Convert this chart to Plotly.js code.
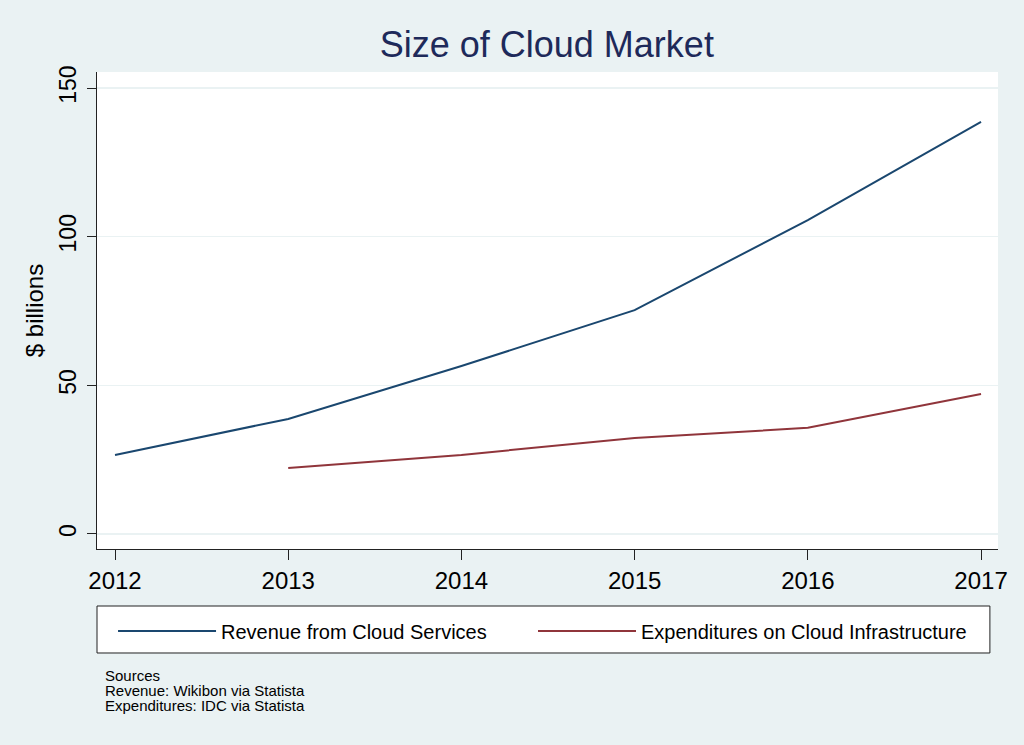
<!DOCTYPE html>
<html>
<head>
<meta charset="utf-8">
<script src="https://cdn.plot.ly/plotly-3.0.1.min.js"></script>
<style>html,body{margin:0;padding:0;background:#eaf2f3;}#chart{width:1024px;height:745px;}</style>
</head>
<body>
<div id="chart"></div>
<script>
const years = [2012, 2013, 2014, 2015, 2016, 2017];
const revenueYears = [2012, 2013, 2014, 2015, 2016, 2017];
const revenue = [26.6, 38.7, 56.5, 75.3, 105.6, 138.6];
const expenditureYears = [2013, 2014, 2015, 2016, 2017];
const expenditures = [22.2, 26.6, 32.3, 35.7, 47.1];
const yTicks = [0, 50, 100, 150];
const seriesNames = ["Revenue from Cloud Services", "Expenditures on Cloud Infrastructure"];
const sourceLines = ["Sources", "Revenue: Wikibon via Statista", "Expenditures: IDC via Statista"];

const font = "Liberation Sans, Arial, Helvetica, sans-serif";

const traces = [
  {x: revenueYears, y: revenue, type: "scatter", mode: "lines", name: seriesNames[0],
   line: {color: "#1a476f", width: 2}, legend: "legend"},
  {x: expenditureYears, y: expenditures, type: "scatter", mode: "lines", name: seriesNames[1],
   line: {color: "#90353b", width: 2}, legend: "legend2"}
];

const sourceAnnotations = sourceLines.map((t, i) => ({
  xref: "paper", yref: "paper", x: 0.0067, y: (549 - (675 + i * 15)) / 477,
  xanchor: "left", yanchor: "middle", align: "left", showarrow: false, text: t,
  font: {size: 15, family: font, color: "#000"}
}));

const legendBase = {
  orientation: "h", xanchor: "left", y: -0.172, yanchor: "middle",
  bgcolor: "rgba(0,0,0,0)", borderwidth: 0, itemwidth: 98,
  font: {size: 20, color: "#000000", family: font}
};

const layout = {
  width: 1024, height: 745,
  paper_bgcolor: "#eaf2f3",
  plot_bgcolor: "#ffffff",
  margin: {l: 97, r: 26, t: 72, b: 196},
  font: {family: font, color: "#000000"},
  title: {text: "Size of Cloud Market", font: {size: 36, color: "#1e2a5a", family: font},
          x: 0.534, xanchor: "center", y: 0.94, yanchor: "middle"},
  showlegend: true,
  legend: Object.assign({}, legendBase, {x: 0.0178}),
  legend2: Object.assign({}, legendBase, {x: (533 - 97) / 901}),
  xaxis: {range: [2011.896, 2017.098], tickvals: years, ticktext: years.map(String),
          showgrid: false, zeroline: false, showline: true, linecolor: "#222", linewidth: 1,
          ticks: "outside", ticklen: 10, tickcolor: "#222", tickwidth: 1,
          tickfont: {size: 24, family: font}},
  yaxis: {range: [-5.05, 155.4], tickvals: yTicks, ticktext: yTicks.map(String),
          showgrid: true, gridcolor: "#eaf2f3", gridwidth: 1.5, zeroline: false,
          showline: true, linecolor: "#222", linewidth: 1,
          ticks: "outside", ticklen: 9, tickcolor: "#222", tickwidth: 1,
          tickangle: -90, ticklabelstandoff: 2, tickfont: {size: 23, family: font},
          title: {text: "$ billions", font: {size: 24, family: font}, standoff: 4}},
  shapes: [
    {type: "rect", xref: "paper", yref: "paper", x0: 0, x1: 0.991,
     y0: -0.218, y1: -0.1195, fillcolor: "#ffffff", line: {color: "#222", width: 1}, layer: "below"}
  ],
  annotations: sourceAnnotations
};

Plotly.newPlot("chart", traces, layout, {displayModeBar: false, staticPlot: true});
</script>
</body>
</html>
